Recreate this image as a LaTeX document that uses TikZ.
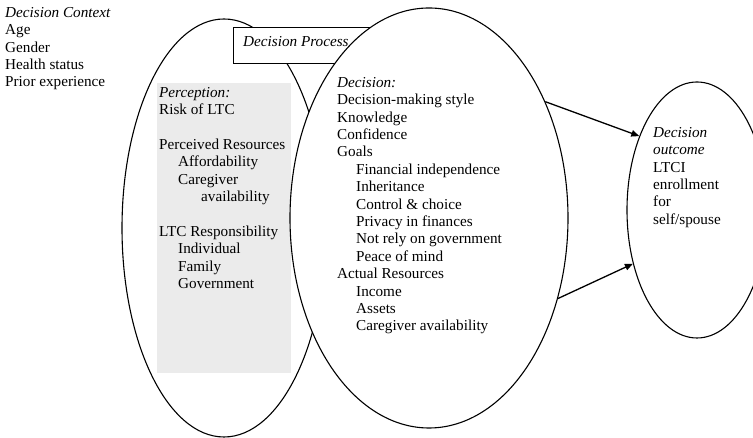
\documentclass[tikz,border=0pt]{standalone}
\usepackage{fontspec}
\setmainfont{Liberation Serif}
\usepackage{xcolor}
\usetikzlibrary{shapes.geometric, arrows.meta, positioning}
\definecolor{panelgray}{HTML}{EBEBEB}

\begin{document}
\begin{tikzpicture}[
  x=1pt, y=1pt,
  oval/.style={ellipse, draw=black, line width=1.1pt, inner sep=0pt},
  listtext/.style={anchor=north west, align=left, inner sep=0pt, font=\fontsize{15.2}{17.4}\selectfont},
  procbox/.style={draw=black, line width=1.3pt, fill=white, anchor=north west, minimum width=170pt, minimum height=36pt, inner sep=0pt},
  flow/.style={-{Triangle[length=8pt, width=6.5pt]}, line width=1.3pt},
]
\useasboundingbox (0,0) rectangle (753,438);

\node[oval, minimum width=204pt, minimum height=418pt] (perc) at (224,210) {};
\fill[panelgray] (157,355) rectangle (291,65);
\node[procbox] (proc) at (233,411) {};
\node[listtext, font=\fontsize{15.2}{17.4}\selectfont\itshape] (proctext) at (243,402) {Decision Process};
\node[oval, fill=white, minimum width=278pt, minimum height=420pt] (dec) at (429,220) {};
\node[oval, fill=white, minimum width=140pt, minimum height=256pt] (outc) at (697,228) {};

\draw[flow] (dec.45.7) -- (outc.128.2);
\draw[flow] (dec.328.5) -- (outc.220.1);

\node[listtext] (context) at (5,431) {\textit{Decision Context}\\Age\\Gender\\Health status\\Prior experience};

\node[listtext] (perctext) at (159,351) {\textit{Perception:}\\Risk of LTC\\[17.4pt]Perceived Resources\\\hspace*{19pt}Affordability\\\hspace*{19pt}Caregiver\\\hspace*{42pt}availability\\[17.4pt]LTC Responsibility\\\hspace*{19pt}Individual\\\hspace*{19pt}Family\\\hspace*{19pt}Government};

\node[listtext] (dectext) at (337,361) {\textit{Decision:}\\Decision-making style\\Knowledge\\Confidence\\Goals\\\hspace*{19pt}Financial independence\\\hspace*{19pt}Inheritance\\\hspace*{19pt}Control \& choice\\\hspace*{19pt}Privacy in finances\\\hspace*{19pt}Not rely on government\\\hspace*{19pt}Peace of mind\\Actual Resources\\\hspace*{19pt}Income\\\hspace*{19pt}Assets\\\hspace*{19pt}Caregiver availability};

\node[listtext] (outctext) at (653,311) {\textit{Decision}\\\textit{outcome}\\LTCI\\enrollment\\for\\self/spouse};
\end{tikzpicture}
\end{document}
